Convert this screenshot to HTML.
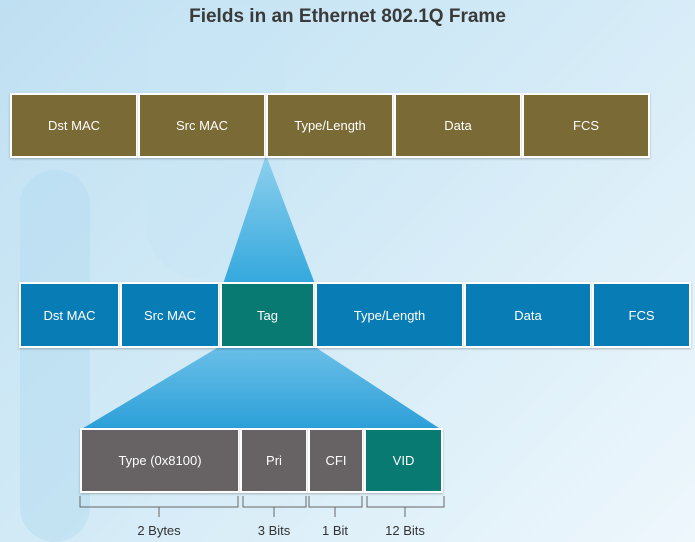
<!DOCTYPE html>
<html><head><style>
html,body{margin:0;width:695px;height:542px;overflow:hidden}
body{font-family:"Liberation Sans",sans-serif;background:linear-gradient(135deg,#bfe0f2 0%,#d4ebf7 50%,#eef7fc 100%);position:relative}
.b{position:absolute;box-sizing:border-box;border:2px solid #fff;color:#fff;font-size:13px;display:flex;align-items:center;justify-content:center;box-shadow:0 1px 2px rgba(0,0,0,.25)}
.o{background:#7a6a35}.c{background:#087cb4}.t{background:#097a72}.g{background:#676264}
.l{position:absolute;font-size:13px;line-height:15px;color:#333;text-align:center;width:100px}
</style></head><body>
<svg width="695" height="542" style="position:absolute;left:0;top:0">
<rect x="20" y="170" width="70" height="372" rx="35" fill="#b3dbf0" opacity=".5"/>
<rect x="145" y="0" width="140" height="280" rx="60" fill="#c8e6f5" opacity=".5"/>
<defs><linearGradient id="g1" x1="0" y1="0" x2="0" y2="1"><stop offset="0" stop-color="#8fd0ee"/><stop offset="1" stop-color="#33a8dd"/></linearGradient>
<linearGradient id="g2" x1="0" y1="0" x2="0" y2="1"><stop offset="0" stop-color="#6cc0e8"/><stop offset="1" stop-color="#2b9fd8"/></linearGradient></defs>
<polygon points="266,155 223,284 315,284" fill="url(#g1)"/>
<polygon points="222,345 312,345 442,430 80,430" fill="url(#g2)"/>
<g stroke="#666" stroke-width="1" fill="none">
<path d="M80,496V507H238V496M159,507V517"/>
<path d="M243,496V507H306V496M274,507V517"/>
<path d="M309,496V507H362V496M335,507V517"/>
<path d="M367,496V507H444V496M405,507V517"/>
</g>
</svg>
<div style="position:absolute;top:6px;left:0;width:695px;text-align:center;font-weight:bold;font-size:19px;color:#3a3a3a">Fields in an Ethernet 802.1Q Frame</div>
<div class="b o" style="left:10px;top:93px;width:128px;height:65px">Dst MAC</div>
<div class="b o" style="left:138px;top:93px;width:128px;height:65px">Src MAC</div>
<div class="b o" style="left:266px;top:93px;width:128px;height:65px">Type/Length</div>
<div class="b o" style="left:394px;top:93px;width:128px;height:65px">Data</div>
<div class="b o" style="left:522px;top:93px;width:128px;height:65px">FCS</div>
<div class="b c" style="left:19px;top:282px;width:101px;height:66px">Dst MAC</div>
<div class="b c" style="left:120px;top:282px;width:100px;height:66px">Src MAC</div>
<div class="b t" style="left:220px;top:282px;width:95px;height:66px">Tag</div>
<div class="b c" style="left:315px;top:282px;width:149px;height:66px">Type/Length</div>
<div class="b c" style="left:464px;top:282px;width:128px;height:66px">Data</div>
<div class="b c" style="left:592px;top:282px;width:99px;height:66px">FCS</div>
<div class="b g" style="left:80px;top:428px;width:160px;height:65px">Type (0x8100)</div>
<div class="b g" style="left:240px;top:428px;width:68px;height:65px">Pri</div>
<div class="b g" style="left:308px;top:428px;width:56px;height:65px">CFI</div>
<div class="b t" style="left:364px;top:428px;width:79px;height:65px">VID</div>
<div class="l" style="left:109px;top:523px">2 Bytes</div>
<div class="l" style="left:224px;top:523px">3 Bits</div>
<div class="l" style="left:285px;top:523px">1 Bit</div>
<div class="l" style="left:355px;top:523px">12 Bits</div>
</body></html>
